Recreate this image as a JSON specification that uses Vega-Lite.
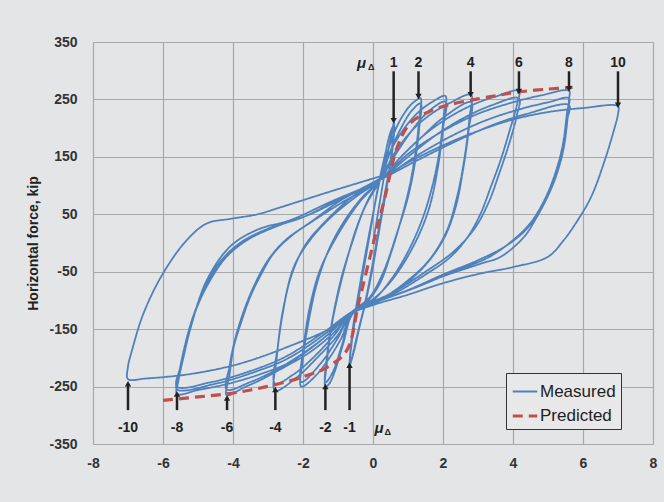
{
  "$schema": "https://vega.github.io/schema/vega-lite/v6.json",
  "width": 560,
  "height": 402,
  "autosize": "none",
  "padding": {"left": 93, "top": 42, "right": 11, "bottom": 58},
  "background": "#e4e5e6",
  "config": {
    "font": "Liberation Sans",
    "view": {"stroke": null},
    "legend": {"symbolStrokeWidth": 2.5}
  },
  "datasets": {
    "lines": [
      {"s":"Measured","x":0,"y":0},{"s":"Measured","x":0.15,"y":55},{"s":"Measured","x":0.3,"y":110},{"s":"Measured","x":0.45,"y":165},{"s":"Measured","x":0.6,"y":210},
      {"s":"Measured","x":0.55,"y":170},{"s":"Measured","x":0.4,"y":100},{"s":"Measured","x":0.2,"y":30},{"s":"Measured","x":0,"y":-40},{"s":"Measured","x":-0.2,"y":-100},{"s":"Measured","x":-0.4,"y":-150},{"s":"Measured","x":-0.55,"y":-190},{"s":"Measured","x":-0.67,"y":-213},
      {"s":"Measured","x":-0.6,"y":-170},{"s":"Measured","x":-0.45,"y":-110},{"s":"Measured","x":-0.25,"y":-40},{"s":"Measured","x":-0.05,"y":30},{"s":"Measured","x":0.15,"y":100},{"s":"Measured","x":0.35,"y":155},{"s":"Measured","x":0.5,"y":193},{"s":"Measured","x":0.6,"y":205},
      {"s":"Measured","x":0.55,"y":160},{"s":"Measured","x":0.35,"y":90},{"s":"Measured","x":0.15,"y":20},{"s":"Measured","x":-0.05,"y":-50},{"s":"Measured","x":-0.25,"y":-110},{"s":"Measured","x":-0.45,"y":-160},{"s":"Measured","x":-0.6,"y":-198},{"s":"Measured","x":-0.66,"y":-208},
      {"s":"Measured","x":-0.6,"y":-160},{"s":"Measured","x":-0.45,"y":-100},{"s":"Measured","x":-0.25,"y":-30},{"s":"Measured","x":0,"y":50},{"s":"Measured","x":0.2,"y":110},
      {"s":"Measured","x":0.45,"y":165},{"s":"Measured","x":0.7,"y":205},{"s":"Measured","x":1.0,"y":235},{"s":"Measured","x":1.2,"y":247},{"s":"Measured","x":1.36,"y":252},
      {"s":"Measured","x":1.33,"y":220},{"s":"Measured","x":1.22,"y":160},{"s":"Measured","x":1.05,"y":100},{"s":"Measured","x":0.8,"y":40},{"s":"Measured","x":0.5,"y":-20},{"s":"Measured","x":0.2,"y":-70},{"s":"Measured","x":-0.2,"y":-105},{"s":"Measured","x":-0.6,"y":-125},{"s":"Measured","x":-0.85,"y":-175},{"s":"Measured","x":-1.1,"y":-225},{"s":"Measured","x":-1.25,"y":-245},{"s":"Measured","x":-1.36,"y":-250},
      {"s":"Measured","x":-1.32,"y":-210},{"s":"Measured","x":-1.2,"y":-150},{"s":"Measured","x":-1.0,"y":-90},{"s":"Measured","x":-0.75,"y":-30},{"s":"Measured","x":-0.45,"y":30},{"s":"Measured","x":-0.1,"y":80},{"s":"Measured","x":0.2,"y":110},
      {"s":"Measured","x":0.5,"y":160},{"s":"Measured","x":0.8,"y":200},{"s":"Measured","x":1.1,"y":230},{"s":"Measured","x":1.36,"y":243},
      {"s":"Measured","x":1.32,"y":200},{"s":"Measured","x":1.2,"y":140},{"s":"Measured","x":1.0,"y":80},{"s":"Measured","x":0.7,"y":20},{"s":"Measured","x":0.3,"y":-50},{"s":"Measured","x":-0.1,"y":-95},{"s":"Measured","x":-0.6,"y":-122},{"s":"Measured","x":-0.9,"y":-180},{"s":"Measured","x":-1.15,"y":-225},{"s":"Measured","x":-1.36,"y":-243},
      {"s":"Measured","x":-1.3,"y":-190},{"s":"Measured","x":-1.15,"y":-130},{"s":"Measured","x":-0.9,"y":-60},{"s":"Measured","x":-0.6,"y":0},{"s":"Measured","x":-0.25,"y":60},{"s":"Measured","x":0.2,"y":110},
      {"s":"Measured","x":0.5,"y":160},{"s":"Measured","x":0.9,"y":200},{"s":"Measured","x":1.3,"y":228},{"s":"Measured","x":1.7,"y":246},{"s":"Measured","x":2.07,"y":256},
      {"s":"Measured","x":2.02,"y":220},{"s":"Measured","x":1.9,"y":160},{"s":"Measured","x":1.7,"y":100},{"s":"Measured","x":1.4,"y":40},{"s":"Measured","x":1.0,"y":-15},{"s":"Measured","x":0.5,"y":-65},{"s":"Measured","x":0,"y":-100},{"s":"Measured","x":-0.6,"y":-122},
      {"s":"Measured","x":-0.9,"y":-165},{"s":"Measured","x":-1.3,"y":-205},{"s":"Measured","x":-1.7,"y":-235},{"s":"Measured","x":-2.05,"y":-250},
      {"s":"Measured","x":-2.0,"y":-200},{"s":"Measured","x":-1.85,"y":-140},{"s":"Measured","x":-1.6,"y":-70},{"s":"Measured","x":-1.25,"y":-10},{"s":"Measured","x":-0.8,"y":40},{"s":"Measured","x":-0.3,"y":80},{"s":"Measured","x":0.2,"y":110},
      {"s":"Measured","x":0.6,"y":150},{"s":"Measured","x":1.1,"y":195},{"s":"Measured","x":1.6,"y":230},{"s":"Measured","x":2.07,"y":246},
      {"s":"Measured","x":2.0,"y":200},{"s":"Measured","x":1.85,"y":130},{"s":"Measured","x":1.6,"y":60},{"s":"Measured","x":1.2,"y":0},{"s":"Measured","x":0.6,"y":-60},{"s":"Measured","x":0,"y":-98},{"s":"Measured","x":-0.6,"y":-120},{"s":"Measured","x":-1.0,"y":-165},{"s":"Measured","x":-1.5,"y":-210},{"s":"Measured","x":-2.05,"y":-242},
      {"s":"Measured","x":-1.98,"y":-180},{"s":"Measured","x":-1.8,"y":-110},{"s":"Measured","x":-1.5,"y":-45},{"s":"Measured","x":-1.0,"y":15},{"s":"Measured","x":-0.4,"y":70},{"s":"Measured","x":0.2,"y":110},
      {"s":"Measured","x":0.6,"y":155},{"s":"Measured","x":1.1,"y":195},{"s":"Measured","x":1.6,"y":222},{"s":"Measured","x":2.2,"y":244},{"s":"Measured","x":2.8,"y":258},
      {"s":"Measured","x":2.76,"y":220},{"s":"Measured","x":2.62,"y":150},{"s":"Measured","x":2.4,"y":80},{"s":"Measured","x":2.1,"y":20},{"s":"Measured","x":1.6,"y":-30},{"s":"Measured","x":1.0,"y":-65},{"s":"Measured","x":0.3,"y":-95},{"s":"Measured","x":-0.6,"y":-120},
      {"s":"Measured","x":-1.0,"y":-160},{"s":"Measured","x":-1.6,"y":-200},{"s":"Measured","x":-2.2,"y":-235},{"s":"Measured","x":-2.8,"y":-257},
      {"s":"Measured","x":-2.75,"y":-200},{"s":"Measured","x":-2.6,"y":-130},{"s":"Measured","x":-2.35,"y":-60},{"s":"Measured","x":-1.95,"y":-5},{"s":"Measured","x":-1.4,"y":35},{"s":"Measured","x":-0.6,"y":80},{"s":"Measured","x":0.2,"y":110},
      {"s":"Measured","x":0.8,"y":150},{"s":"Measured","x":1.4,"y":185},{"s":"Measured","x":2.0,"y":218},{"s":"Measured","x":2.8,"y":245},
      {"s":"Measured","x":2.74,"y":200},{"s":"Measured","x":2.58,"y":130},{"s":"Measured","x":2.35,"y":60},{"s":"Measured","x":2.0,"y":5},{"s":"Measured","x":1.4,"y":-45},{"s":"Measured","x":0.6,"y":-85},{"s":"Measured","x":-0.6,"y":-120},
      {"s":"Measured","x":-1.1,"y":-160},{"s":"Measured","x":-1.8,"y":-205},{"s":"Measured","x":-2.3,"y":-230},{"s":"Measured","x":-2.8,"y":-245},
      {"s":"Measured","x":-2.72,"y":-180},{"s":"Measured","x":-2.55,"y":-110},{"s":"Measured","x":-2.25,"y":-40},{"s":"Measured","x":-1.8,"y":5},{"s":"Measured","x":-1.2,"y":45},{"s":"Measured","x":-0.5,"y":80},{"s":"Measured","x":0.2,"y":110},
      {"s":"Measured","x":0.8,"y":150},{"s":"Measured","x":1.5,"y":190},{"s":"Measured","x":2.2,"y":220},{"s":"Measured","x":2.9,"y":242},{"s":"Measured","x":3.5,"y":255},{"s":"Measured","x":4.17,"y":265},
      {"s":"Measured","x":4.13,"y":245},{"s":"Measured","x":3.9,"y":195},{"s":"Measured","x":3.65,"y":145},{"s":"Measured","x":3.35,"y":95},{"s":"Measured","x":3.08,"y":52},{"s":"Measured","x":2.7,"y":10},{"s":"Measured","x":2.2,"y":-25},{"s":"Measured","x":1.5,"y":-55},{"s":"Measured","x":0.7,"y":-85},{"s":"Measured","x":0,"y":-105},{"s":"Measured","x":-0.6,"y":-120},
      {"s":"Measured","x":-1.1,"y":-155},{"s":"Measured","x":-1.8,"y":-190},{"s":"Measured","x":-2.5,"y":-215},{"s":"Measured","x":-3.2,"y":-238},{"s":"Measured","x":-3.7,"y":-252},{"s":"Measured","x":-4.18,"y":-265},
      {"s":"Measured","x":-4.1,"y":-230},{"s":"Measured","x":-3.98,"y":-181},{"s":"Measured","x":-3.75,"y":-135},{"s":"Measured","x":-3.51,"y":-94},{"s":"Measured","x":-3.2,"y":-55},{"s":"Measured","x":-2.84,"y":-18},{"s":"Measured","x":-2.36,"y":11},{"s":"Measured","x":-1.7,"y":40},{"s":"Measured","x":-0.9,"y":75},{"s":"Measured","x":0.2,"y":110},
      {"s":"Measured","x":1.0,"y":150},{"s":"Measured","x":1.8,"y":188},{"s":"Measured","x":2.6,"y":218},{"s":"Measured","x":3.4,"y":240},{"s":"Measured","x":4.17,"y":252},
      {"s":"Measured","x":4.1,"y":220},{"s":"Measured","x":3.9,"y":175},{"s":"Measured","x":3.6,"y":120},{"s":"Measured","x":3.3,"y":70},{"s":"Measured","x":2.9,"y":25},{"s":"Measured","x":2.3,"y":-15},{"s":"Measured","x":1.5,"y":-50},{"s":"Measured","x":0.6,"y":-85},{"s":"Measured","x":-0.6,"y":-120},
      {"s":"Measured","x":-1.3,"y":-160},{"s":"Measured","x":-2.0,"y":-192},{"s":"Measured","x":-2.8,"y":-222},{"s":"Measured","x":-3.5,"y":-242},{"s":"Measured","x":-4.18,"y":-255},
      {"s":"Measured","x":-4.1,"y":-215},{"s":"Measured","x":-3.95,"y":-170},{"s":"Measured","x":-3.7,"y":-120},{"s":"Measured","x":-3.4,"y":-75},{"s":"Measured","x":-3.0,"y":-30},{"s":"Measured","x":-2.5,"y":5},{"s":"Measured","x":-1.8,"y":35},{"s":"Measured","x":-0.9,"y":70},{"s":"Measured","x":0.2,"y":110},
      {"s":"Measured","x":1.0,"y":155},{"s":"Measured","x":2.0,"y":195},{"s":"Measured","x":3.0,"y":225},{"s":"Measured","x":4.0,"y":245},{"s":"Measured","x":4.8,"y":257},{"s":"Measured","x":5.6,"y":265},
      {"s":"Measured","x":5.6,"y":250},{"s":"Measured","x":5.46,"y":169},{"s":"Measured","x":5.25,"y":120},{"s":"Measured","x":4.99,"y":81},{"s":"Measured","x":4.65,"y":42},{"s":"Measured","x":4.32,"y":11},{"s":"Measured","x":3.65,"y":-24},{"s":"Measured","x":3.08,"y":-36},{"s":"Measured","x":2.0,"y":-58},{"s":"Measured","x":1.0,"y":-82},{"s":"Measured","x":0,"y":-105},{"s":"Measured","x":-0.6,"y":-120},
      {"s":"Measured","x":-1.2,"y":-155},{"s":"Measured","x":-2.3,"y":-205},{"s":"Measured","x":-3.2,"y":-228},{"s":"Measured","x":-4.2,"y":-246},{"s":"Measured","x":-5.0,"y":-256},{"s":"Measured","x":-5.6,"y":-263},
      {"s":"Measured","x":-5.56,"y":-240},{"s":"Measured","x":-5.4,"y":-195},{"s":"Measured","x":-5.23,"y":-152},{"s":"Measured","x":-4.75,"y":-65},{"s":"Measured","x":-4.08,"y":-6},{"s":"Measured","x":-3.31,"y":23},{"s":"Measured","x":-2.36,"y":40},{"s":"Measured","x":-1.2,"y":72},{"s":"Measured","x":0.2,"y":110},
      {"s":"Measured","x":1.2,"y":150},{"s":"Measured","x":2.2,"y":185},{"s":"Measured","x":3.2,"y":213},{"s":"Measured","x":4.2,"y":233},{"s":"Measured","x":5.0,"y":245},{"s":"Measured","x":5.6,"y":252},
      {"s":"Measured","x":5.55,"y":230},{"s":"Measured","x":5.42,"y":170},{"s":"Measured","x":5.2,"y":120},{"s":"Measured","x":4.9,"y":75},{"s":"Measured","x":4.5,"y":35},{"s":"Measured","x":4.0,"y":5},{"s":"Measured","x":3.3,"y":-25},{"s":"Measured","x":2.3,"y":-50},{"s":"Measured","x":1.2,"y":-78},{"s":"Measured","x":0,"y":-105},{"s":"Measured","x":-0.6,"y":-120},
      {"s":"Measured","x":-1.3,"y":-155},{"s":"Measured","x":-2.4,"y":-200},{"s":"Measured","x":-3.4,"y":-225},{"s":"Measured","x":-4.5,"y":-245},{"s":"Measured","x":-5.6,"y":-255},
      {"s":"Measured","x":-5.55,"y":-230},{"s":"Measured","x":-5.38,"y":-180},{"s":"Measured","x":-5.15,"y":-130},{"s":"Measured","x":-4.85,"y":-85},{"s":"Measured","x":-4.4,"y":-35},{"s":"Measured","x":-3.8,"y":0},{"s":"Measured","x":-3.0,"y":25},{"s":"Measured","x":-2.0,"y":45},{"s":"Measured","x":-1.0,"y":75},{"s":"Measured","x":0.2,"y":110},
      {"s":"Measured","x":1.3,"y":145},{"s":"Measured","x":2.4,"y":178},{"s":"Measured","x":3.4,"y":205},{"s":"Measured","x":4.4,"y":225},{"s":"Measured","x":5.6,"y":240},
      {"s":"Measured","x":5.55,"y":215},{"s":"Measured","x":5.4,"y":160},{"s":"Measured","x":5.15,"y":110},{"s":"Measured","x":4.85,"y":65},{"s":"Measured","x":4.4,"y":25},{"s":"Measured","x":3.8,"y":-5},{"s":"Measured","x":3.0,"y":-30},{"s":"Measured","x":2.0,"y":-55},{"s":"Measured","x":1.0,"y":-82},{"s":"Measured","x":0,"y":-105},{"s":"Measured","x":-0.6,"y":-120},
      {"s":"Measured","x":-1.4,"y":-155},{"s":"Measured","x":-2.5,"y":-198},{"s":"Measured","x":-3.6,"y":-225},{"s":"Measured","x":-4.6,"y":-242},{"s":"Measured","x":-5.6,"y":-250},
      {"s":"Measured","x":-5.5,"y":-215},{"s":"Measured","x":-5.3,"y":-165},{"s":"Measured","x":-5.05,"y":-115},{"s":"Measured","x":-4.7,"y":-70},{"s":"Measured","x":-4.2,"y":-25},{"s":"Measured","x":-3.6,"y":5},{"s":"Measured","x":-2.8,"y":28},{"s":"Measured","x":-1.8,"y":50},{"s":"Measured","x":-0.8,"y":80},{"s":"Measured","x":0.2,"y":112},
      {"s":"Measured","x":1,"y":140},{"s":"Measured","x":2,"y":170},{"s":"Measured","x":3,"y":195},{"s":"Measured","x":4,"y":215},{"s":"Measured","x":5,"y":228},{"s":"Measured","x":6,"y":235},{"s":"Measured","x":7,"y":238},
      {"s":"Measured","x":7.0,"y":225},{"s":"Measured","x":6.9,"y":200},{"s":"Measured","x":6.6,"y":140},{"s":"Measured","x":6.23,"y":80},{"s":"Measured","x":5.8,"y":35},{"s":"Measured","x":5.45,"y":5},{"s":"Measured","x":5.0,"y":-24},{"s":"Measured","x":4.0,"y":-42},{"s":"Measured","x":3.08,"y":-53},{"s":"Measured","x":2,"y":-70},{"s":"Measured","x":1,"y":-90},{"s":"Measured","x":0,"y":-108},{"s":"Measured","x":-0.6,"y":-122},
      {"s":"Measured","x":-1.2,"y":-148},{"s":"Measured","x":-2.4,"y":-180},{"s":"Measured","x":-3.8,"y":-210},{"s":"Measured","x":-5.2,"y":-228},{"s":"Measured","x":-6.5,"y":-236},{"s":"Measured","x":-7.0,"y":-237},
      {"s":"Measured","x":-7.0,"y":-215},{"s":"Measured","x":-6.9,"y":-190},{"s":"Measured","x":-6.56,"y":-123},{"s":"Measured","x":-6.0,"y":-53},{"s":"Measured","x":-5.32,"y":5},{"s":"Measured","x":-4.75,"y":34},{"s":"Measured","x":-4.08,"y":42},{"s":"Measured","x":-3.3,"y":50},{"s":"Measured","x":-2.6,"y":63},{"s":"Measured","x":-1.2,"y":90},{"s":"Measured","x":0.2,"y":116},
      {"s":"Predicted","x":-6.0,"y":-274},{"s":"Predicted","x":-5.0,"y":-268},{"s":"Predicted","x":-4.2,"y":-263},{"s":"Predicted","x":-3.5,"y":-256},{"s":"Predicted","x":-2.75,"y":-246},{"s":"Predicted","x":-2.0,"y":-233},{"s":"Predicted","x":-1.3,"y":-216},{"s":"Predicted","x":-0.75,"y":-187},{"s":"Predicted","x":-0.4,"y":-102},{"s":"Predicted","x":0,"y":-3},{"s":"Predicted","x":0.35,"y":82},{"s":"Predicted","x":0.7,"y":168},{"s":"Predicted","x":1.07,"y":209},{"s":"Predicted","x":1.65,"y":230},{"s":"Predicted","x":2.2,"y":241},{"s":"Predicted","x":3.0,"y":251},{"s":"Predicted","x":3.65,"y":258},{"s":"Predicted","x":4.15,"y":263},{"s":"Predicted","x":5.0,"y":268},{"s":"Predicted","x":5.7,"y":271}
    ],
    "arrows": [
      {"x":0.59,"y":299,"y2":213,"t":"1","ty":314,"d":"down"},
      {"x":1.3,"y":299,"y2":255,"t":"2","ty":314,"d":"down"},
      {"x":2.79,"y":299,"y2":258,"t":"4","ty":314,"d":"down"},
      {"x":4.17,"y":299,"y2":264,"t":"6","ty":314,"d":"down"},
      {"x":5.6,"y":299,"y2":268,"t":"8","ty":314,"d":"down"},
      {"x":7.0,"y":299,"y2":240,"t":"10","ty":314,"d":"down"},
      {"x":-7.0,"y":-291,"y2":-245,"t":"-10","ty":-322,"d":"up"},
      {"x":-5.6,"y":-291,"y2":-263,"t":"-8","ty":-322,"d":"up"},
      {"x":-4.17,"y":-291,"y2":-270,"t":"-6","ty":-322,"d":"up"},
      {"x":-2.79,"y":-291,"y2":-255,"t":"-4","ty":-322,"d":"up"},
      {"x":-1.36,"y":-291,"y2":-250,"t":"-2","ty":-322,"d":"up"},
      {"x":-0.67,"y":-291,"y2":-213,"t":"-1","ty":-322,"d":"up"}
    ],
    "mu": [
      {"x":-0.33,"y":313,"t":"μ","k":"m"},
      {"x":-0.05,"y":306,"t":"Δ","k":"s"},
      {"x":0.17,"y":-322,"t":"μ","k":"m"},
      {"x":0.42,"y":-329,"t":"Δ","k":"s"}
    ]
  },
  "layer": [
    {
      "data": {"name": "lines"},
      "mark": {"type": "line", "strokeJoin": "round", "interpolate": "catmull-rom"},
      "encoding": {
        "x": {
          "field": "x", "type": "quantitative",
          "scale": {"domain": [-8, 8], "nice": false, "zero": false},
          "axis": {
            "values": [-8,-7,-6,-5,-4,-3,-2,-1,0,1,2,3,4,5,6,7,8],
            "labelExpr": "datum.value % 2 == 0 ? '' + datum.value : ''",
            "title": null, "grid": true,
            "gridColor": {"condition": {"test": "datum.value % 2 == 0", "value": "#a8a8a8"}, "value": "#c4c4c4"},
            "gridWidth": 1.2,
            "ticks": false, "domain": false, "labelPadding": 12,
            "labelFontSize": 14, "labelFontWeight": "bold", "labelColor": "#333333",
            "labelOverlap": false, "labelFlush": false
          }
        },
        "y": {
          "field": "y", "type": "quantitative",
          "scale": {"domain": [-350, 350], "nice": false, "zero": false},
          "axis": {
            "values": [-350,-300,-250,-200,-150,-100,-50,0,50,100,150,200,250,300,350],
            "labelExpr": "abs(datum.value % 100) == 50 ? '' + datum.value : ''",
            "title": "Horizontal force, kip", "titleFontSize": 14, "titleFontWeight": "bold", "titleColor": "#222222", "titlePadding": 8,
            "grid": true,
            "gridColor": {"condition": {"test": "abs(datum.value % 100) == 50", "value": "#a8a8a8"}, "value": "#c4c4c4"},
            "gridWidth": 1.2,
            "ticks": false, "domain": false, "labelPadding": 16,
            "labelFontSize": 14, "labelFontWeight": "bold", "labelColor": "#333333",
            "labelOverlap": false, "labelFlush": false
          }
        },
        "color": {
          "field": "s", "type": "nominal",
          "scale": {"domain": ["Measured", "Predicted"], "range": ["#4F81BD", "#C0504D"]},
          "legend": {
            "orient": "none", "legendX": 413, "legendY": 331, "title": null,
            "strokeColor": "#333333", "fillColor": "#e8e8e8", "padding": 5,
            "symbolType": "stroke", "symbolSize": 600, "rowPadding": 2,
            "labelFontSize": 17, "labelColor": "#222222", "labelOffset": 1
          }
        },
        "strokeDash": {
          "field": "s", "type": "nominal",
          "scale": {"domain": ["Measured", "Predicted"], "range": [[1, 0], [10, 6]]}
        },
        "strokeWidth": {
          "field": "s", "type": "nominal",
          "scale": {"domain": ["Measured", "Predicted"], "range": [1.8, 3.2]},
          "legend": null
        },
        "order": {"value": null}
      }
    },
    {
      "data": {"name": "arrows"},
      "mark": {"type": "rule", "color": "#222222", "strokeWidth": 2.5},
      "encoding": {
        "x": {"field": "x", "type": "quantitative"},
        "y": {"field": "y", "type": "quantitative"},
        "y2": {"field": "y2"}
      }
    },
    {
      "data": {"name": "arrows"},
      "mark": {"type": "point", "filled": true, "color": "#222222", "opacity": 1, "size": 40},
      "encoding": {
        "x": {"field": "x", "type": "quantitative"},
        "y": {"field": "y2", "type": "quantitative"},
        "shape": {"field": "d", "type": "nominal", "scale": {"domain": ["down", "up"], "range": ["triangle-down", "triangle-up"]}, "legend": null}
      }
    },
    {
      "data": {"name": "arrows"},
      "mark": {"type": "text", "fontSize": 14, "fontWeight": "bold", "color": "#222222"},
      "encoding": {
        "x": {"field": "x", "type": "quantitative"},
        "y": {"field": "ty", "type": "quantitative"},
        "text": {"field": "t"}
      }
    },
    {
      "data": {"name": "mu"},
      "transform": [{"filter": "datum.k == 'm'"}],
      "mark": {"type": "text", "fontSize": 15, "fontWeight": "bold", "fontStyle": "italic", "color": "#222222"},
      "encoding": {
        "x": {"field": "x", "type": "quantitative"},
        "y": {"field": "y", "type": "quantitative"},
        "text": {"field": "t"}
      }
    },
    {
      "data": {"name": "mu"},
      "transform": [{"filter": "datum.k == 's'"}],
      "mark": {"type": "text", "fontSize": 9, "fontWeight": "bold", "color": "#222222"},
      "encoding": {
        "x": {"field": "x", "type": "quantitative"},
        "y": {"field": "y", "type": "quantitative"},
        "text": {"field": "t"}
      }
    }
  ]
}
